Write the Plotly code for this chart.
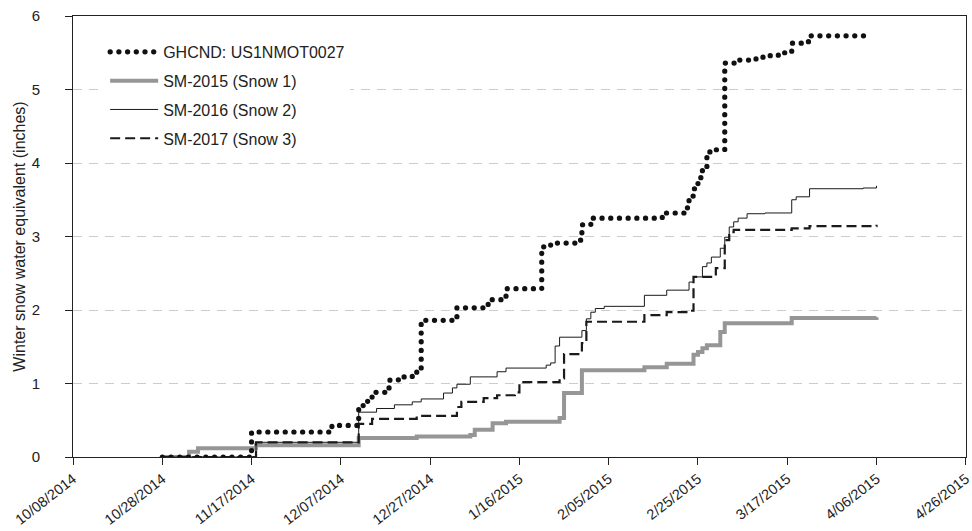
import plotly.graph_objects as go

# Cumulative winter snow water equivalent (inches), stored as step changes.
ghcnd_dates = [
    "2014-10-28", "2014-11-17", "2014-12-05", "2014-12-11", "2014-12-12",
    "2014-12-13", "2014-12-14", "2014-12-17", "2014-12-18", "2014-12-20",
    "2014-12-23", "2014-12-24", "2014-12-25", "2015-01-02", "2015-01-09",
    "2015-01-13", "2015-01-21", "2015-01-23", "2015-01-29", "2015-01-30",
    "2015-02-01", "2015-02-17", "2015-02-22", "2015-02-23", "2015-02-24",
    "2015-02-25", "2015-02-26", "2015-02-27", "2015-02-28", "2015-03-03",
    "2015-03-06", "2015-03-10", "2015-03-12", "2015-03-15", "2015-03-18",
    "2015-03-21", "2015-03-22", "2015-04-05",
]
ghcnd_swe = [
    0.00, 0.34, 0.43, 0.68, 0.73,
    0.80, 0.88, 0.94, 1.05, 1.09,
    1.14, 1.17, 1.86, 2.03, 2.14,
    2.29, 2.86, 2.91, 2.95, 3.16,
    3.25, 3.32, 3.39, 3.55, 3.65,
    3.80, 3.93, 4.15, 4.18, 5.36,
    5.40, 5.44, 5.46, 5.50, 5.63,
    5.65, 5.73, 5.73,
]

sm2015_dates = [
    "2014-10-28", "2014-11-03", "2014-11-05", "2014-11-18", "2014-12-11",
    "2014-12-24", "2015-01-05", "2015-01-06", "2015-01-10", "2015-01-13",
    "2015-01-25", "2015-01-26", "2015-01-30", "2015-02-13", "2015-02-18",
    "2015-02-24", "2015-02-25", "2015-02-26", "2015-02-27", "2015-03-02",
    "2015-03-03", "2015-03-18", "2015-04-06",
]
sm2015_swe = [
    0.00, 0.07, 0.12, 0.16, 0.26,
    0.28, 0.30, 0.37, 0.46, 0.48,
    0.53, 0.87, 1.18, 1.22, 1.27,
    1.39, 1.43, 1.48, 1.52, 1.70,
    1.82, 1.89, 1.90,
]

sm2016_dates = [
    "2014-10-28", "2014-11-18", "2014-12-11", "2014-12-15", "2014-12-19",
    "2014-12-23", "2014-12-25", "2014-12-30", "2015-01-01", "2015-01-02",
    "2015-01-05", "2015-01-11", "2015-01-13", "2015-01-22", "2015-01-23",
    "2015-01-24", "2015-01-25", "2015-01-30", "2015-01-31", "2015-02-01",
    "2015-02-02", "2015-02-04", "2015-02-13", "2015-02-18", "2015-02-23",
    "2015-02-24", "2015-02-26", "2015-02-27", "2015-02-28", "2015-03-02",
    "2015-03-03", "2015-03-04", "2015-03-05", "2015-03-06", "2015-03-08",
    "2015-03-12", "2015-03-18", "2015-03-19", "2015-03-22", "2015-04-03",
    "2015-04-06",
]
sm2016_swe = [
    0.00, 0.20, 0.61, 0.66, 0.71,
    0.75, 0.79, 0.87, 0.94, 0.99,
    1.09, 1.16, 1.21, 1.25, 1.28,
    1.51, 1.63, 1.72, 1.88, 1.97,
    2.02, 2.05, 2.20, 2.27, 2.38,
    2.45, 2.59, 2.64, 2.72, 2.84,
    2.99, 3.13, 3.20, 3.25, 3.31,
    3.32, 3.50, 3.54, 3.65, 3.66,
    3.69,
]

sm2017_dates = [
    "2014-10-28", "2014-11-18", "2014-12-11", "2014-12-14", "2014-12-24",
    "2015-01-02", "2015-01-03", "2015-01-08", "2015-01-11", "2015-01-15",
    "2015-01-16", "2015-01-25", "2015-01-26", "2015-01-30", "2015-01-31",
    "2015-02-13", "2015-02-18", "2015-02-23", "2015-02-24", "2015-03-01",
    "2015-03-03", "2015-03-04", "2015-03-05", "2015-03-18", "2015-03-22",
    "2015-04-06",
]
sm2017_swe = [
    0.00, 0.20, 0.45, 0.52, 0.56,
    0.68, 0.75, 0.80, 0.84, 0.88,
    1.02, 1.07, 1.40, 1.55, 1.84,
    1.93, 1.97, 1.99, 2.45, 2.57,
    2.95, 3.06, 3.09, 3.11, 3.14,
    3.16,
]

tick_dates = [
    "2014-10-08", "2014-10-28", "2014-11-17", "2014-12-07", "2014-12-27",
    "2015-01-16", "2015-02-05", "2015-02-25", "2015-03-17", "2015-04-06",
    "2015-04-26",
]
tick_labels = [
    "10/08/2014", "10/28/2014", "11/17/2014", "12/07/2014", "12/27/2014",
    "1/16/2015", "2/05/2015", "2/25/2015", "3/17/2015", "4/06/2015",
    "4/26/2015",
]

FONT = "Liberation Sans, Arial, sans-serif"
DOT_DASH = "0.1px,8.6px"

fig = go.Figure()

fig.add_trace(go.Scatter(
    x=sm2015_dates, y=sm2015_swe, mode="lines", name="SM-2015 (Snow 1)",
    line=dict(color="#969696", width=4, shape="hv"),
    legendrank=2, legendgroup="g2",
))
fig.add_trace(go.Scatter(
    x=sm2016_dates, y=sm2016_swe, mode="lines", name="SM-2016 (Snow 2)",
    line=dict(color="#1a1a1a", width=1, shape="hv"),
    legendrank=3, legendgroup="g3",
))
fig.add_trace(go.Scatter(
    x=sm2017_dates, y=sm2017_swe, mode="lines", name="SM-2017 (Snow 3)",
    line=dict(color="#1a1a1a", width=2.2, shape="hv", dash="10px,5px"),
    legendrank=4, legendgroup="g4",
))
fig.add_trace(go.Scatter(
    x=ghcnd_dates, y=ghcnd_swe, mode="lines", name="GHCND: US1NMOT0027",
    line=dict(color="#111111", width=5.2, shape="hv", dash=DOT_DASH),
    legendrank=1, legendgroup="g1",
))

fig.update_layout(
    width=972, height=531,
    margin=dict(l=73, r=6, t=16, b=74, autoexpand=False),
    paper_bgcolor="white", plot_bgcolor="white",
    font=dict(family=FONT, size=15, color="#222222"),
    showlegend=True,
    legend=dict(
        x=0.036, y=0.957, xanchor="left", yanchor="top",
        bgcolor="white", borderwidth=0,
        font=dict(family=FONT, size=16, color="#222222"),
        itemwidth=48, tracegroupgap=5,
    ),
    xaxis=dict(
        type="date", range=["2014-10-08", "2015-04-26 01:00"],
        tickmode="array", tickvals=tick_dates, ticktext=tick_labels,
        tickangle=-38, ticks="outside", ticklen=7, tickcolor="#222222",
        ticklabeloverflow="allow",
        showline=True, linecolor="#222222", linewidth=1, mirror=True,
        showgrid=False, zeroline=False, automargin=False,
        tickfont=dict(family=FONT, size=14.5, color="#222222"),
    ),
    yaxis=dict(
        range=[0, 6], dtick=1, tick0=0,
        ticks="outside", ticklen=7, tickcolor="#222222",
        ticklabelstandoff=22, ticklabeloverflow="allow",
        showline=True, linecolor="#222222", linewidth=1, mirror=True,
        showgrid=True, gridcolor="#cccccc", gridwidth=1, griddash="9px,7px",
        zeroline=False, automargin=False,
        tickfont=dict(family=FONT, size=15, color="#222222"),
        title=dict(text="Winter snow water equivalent (inches)",
                   font=dict(family=FONT, size=16, color="#222222"),
                   standoff=2),
    ),
)

# Round line caps turn the tiny dash segments of the GHCND line into dots.
round_caps = """
var gd = document.getElementById('{plot_id}');
function roundDots() {
  gd.querySelectorAll('path.js-line').forEach(function (p) {
    if ((p.style.strokeDasharray || '').indexOf('8.6') >= 0) {
      p.style.strokeLinecap = 'round';
    }
  });
}
roundDots();
if (gd.on) { gd.on('plotly_afterplot', roundDots); }
setTimeout(roundDots, 30);
"""

fig.write_html("out.html", post_script=round_caps)
